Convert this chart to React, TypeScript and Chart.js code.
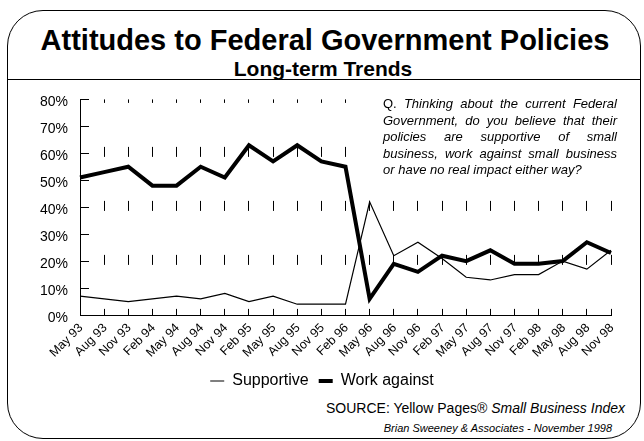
import React, { useEffect, useRef } from "react";
import { Chart, registerables } from "chart.js";

Chart.register(...registerables);

const categories = [
  "May 93", "Aug 93", "Nov 93", "Feb 94", "May 94", "Aug 94", "Nov 94",
  "Feb 95", "May 95", "Aug 95", "Nov 95", "Feb 96", "May 96", "Aug 96",
  "Nov 96", "Feb 97", "May 97", "Aug 97", "Nov 97", "Feb 98", "May 98",
  "Aug 98", "Nov 98",
];

const supportive = [7, 6, 5, 6, 7, 6, 8, 5, 7, 4, 4, 4, 42, 22, 27, 21, 14, 13, 15, 15, 20, 17, 24];
const workAgainst = [51, 53, 55, 48, 48, 55, 51, 63, 57, 63, 57, 55, 6, 19, 16, 22, 20, 24, 19, 19, 20, 27, 23];

const yMin = 0;
const yMax = 80;
const yStep = 10;

const titleText = "Attitudes to Federal Government Policies";
const subtitleText = "Long-term Trends";
const questionLines = [
  "Thinking about the current Federal",
  "Government, do you believe that their",
  "policies are supportive of small",
  "business, work against small business",
  "or have no real impact either way?",
];

const FONT = "'Liberation Sans', Arial, Helvetica, sans-serif";

const xLabelPlugin = {
  id: "rotatedXLabels",
  afterDraw(chart: any) {
    const { ctx } = chart;
    const x = chart.scales.x;
    ctx.save();
    ctx.font = `12.5px ${FONT}`;
    ctx.fillStyle = "#000";
    ctx.textAlign = "right";
    ctx.textBaseline = "middle";
    const labels = chart.data.labels as string[];
    labels.forEach((lab, i) => {
      const px = x.getPixelForTick(i);
      ctx.save();
      ctx.translate(px + 1, x.top + 11);
      ctx.rotate(-Math.PI / 4);
      ctx.fillText(lab, 0, 0);
      ctx.restore();
    });
    ctx.restore();
  },
};

export default function App() {
  const canvasRef = useRef<HTMLCanvasElement | null>(null);

  useEffect(() => {
    if (!canvasRef.current) return;
    const chart = new Chart(canvasRef.current, {
      type: "line",
      data: {
        labels: categories,
        datasets: [
          {
            label: "Supportive",
            data: supportive,
            borderColor: "#000",
            backgroundColor: "#000",
            borderWidth: 1.2,
            pointRadius: 0,
            tension: 0,
          },
          {
            label: "Work against",
            data: workAgainst,
            borderColor: "#000",
            backgroundColor: "#000",
            borderWidth: 4,
            pointRadius: 0,
            tension: 0,
          },
        ],
      },
      options: {
        responsive: false,
        animation: false,
        events: [],
        layout: { padding: { left: 33, right: 33, top: 4, bottom: 0 } },
        plugins: {
          legend: {
            position: "bottom",
            labels: {
              color: "#000",
              font: { family: FONT, size: 16 },
              boxWidth: 14,
              boxHeight: 0,
              padding: 10,
            },
          },
          tooltip: { enabled: false },
          title: { display: false },
        },
        scales: {
          x: {
            type: "category",
            offset: false,
            grid: { display: true, drawTicks: false, color: "#000", lineWidth: 1 },
            border: { display: true, color: "#000", width: 1, dash: [10, 44], dashOffset: 6.5 },
            ticks: {
              display: false,
              autoSkip: false,
            },
            afterFit: (scale: any) => {
              scale.height = 48;
            },
          },
          y: {
            min: yMin,
            max: yMax,
            grid: { display: true, drawTicks: false, color: "#000", lineWidth: 1 },
            border: { display: true, color: "#000", width: 1, dash: [8, 2000] },
            ticks: {
              stepSize: yStep,
              color: "#000",
              font: { family: FONT, size: 14 },
              padding: 12,
              labelOffset: 3,
              callback: (v: any) => `${v}%`,
            },
            afterFit: (scale: any) => {
              scale.width = 47;
            },
          },
        },
      },
      plugins: [xLabelPlugin],
    });
    return () => chart.destroy();
  }, []);

  return (
    <div
      style={{
        position: "fixed",
        left: 0,
        top: 0,
        width: 644,
        height: 441,
        background: "#fff",
        fontFamily: FONT,
        color: "#000",
        overflow: "hidden",
      }}
    >
      <div
        style={{
          position: "absolute",
          left: 7,
          top: 10,
          width: 634,
          height: 429,
          border: "1.3px solid #000",
          borderRadius: 36,
          boxSizing: "border-box",
        }}
      />
      <div
        style={{
          position: "absolute",
          left: 7,
          top: 79,
          width: 634,
          height: 0,
          borderTop: "1.5px solid #000",
        }}
      />
      <div
        style={{
          position: "absolute",
          left: 0,
          top: 24,
          width: 650,
          textAlign: "center",
          fontSize: 29,
          fontWeight: "bold",
          lineHeight: "33px",
          whiteSpace: "nowrap",
        }}
      >
        {titleText}
      </div>
      <div
        style={{
          position: "absolute",
          left: 0,
          top: 57,
          width: 646,
          textAlign: "center",
          fontSize: 21,
          fontWeight: "bold",
          lineHeight: "24px",
          whiteSpace: "nowrap",
        }}
      >
        {subtitleText}
      </div>
      <canvas
        ref={canvasRef}
        width={644}
        height={320}
        style={{ position: "absolute", left: 0, top: 79, width: 644, height: 320 }}
      />
      <div
        style={{
          position: "absolute",
          left: 364,
          top: 96,
          width: 253,
          paddingLeft: 19,
          boxSizing: "border-box",
          fontSize: 13,
          lineHeight: "16.5px",
          background: "#fff",
        }}
      >
        {questionLines.map((line, i) => (
          <div
            key={i}
            style={{
              textAlign: "justify",
              textAlignLast: i < questionLines.length - 1 ? "justify" : "left",
              whiteSpace: "nowrap",
            }}
          >
            {i === 0 ? <span>Q. </span> : null}
            <span style={{ fontStyle: "italic" }}>{line}</span>
          </div>
        ))}
      </div>
      <div
        style={{
          position: "absolute",
          right: 644 - 625,
          top: 400,
          fontSize: 14,
          lineHeight: "17px",
          whiteSpace: "nowrap",
          textAlign: "right",
        }}
      >
        SOURCE: Yellow Pages® <span style={{ fontStyle: "italic" }}>Small Business Index</span>
      </div>
      <div
        style={{
          position: "absolute",
          right: 644 - 612,
          top: 421,
          fontSize: 11,
          lineHeight: "15px",
          whiteSpace: "nowrap",
          textAlign: "right",
          fontStyle: "italic",
        }}
      >
        Brian Sweeney &amp; Associates - November 1998
      </div>
    </div>
  );
}
